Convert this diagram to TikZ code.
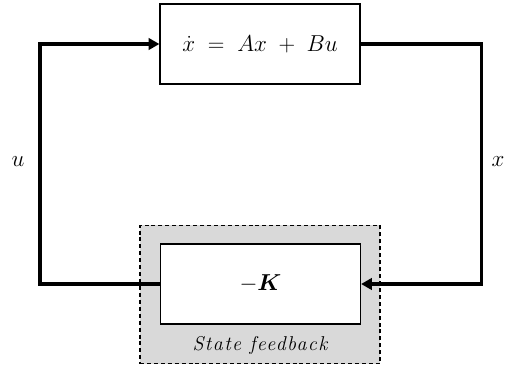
\documentclass[tikz,border=0pt]{standalone}
\usepackage{fontspec}
\usepackage{bm}
\usetikzlibrary{arrows.meta}
\newfontfamily\spaceditfont[LetterSpace=7]{Latin Modern Roman}
\definecolor{fbgray}{RGB}{217,217,217}
\newcommand{\blockfont}{\fontsize{17}{20}\selectfont}
\tikzset{
  block/.style={draw, line width=0.9pt, fill=white, minimum width=150pt, minimum height=60pt, inner sep=0pt, font=\blockfont},
  group/.style={draw, dashed, dash pattern=on 3pt off 2.2pt, line width=0.8pt, fill=fbgray, minimum width=180pt, minimum height=104pt, inner sep=0pt},
  signal/.style={line width=2.4pt, -{Triangle[length=8pt,width=8.5pt]}},
  sig/.style={font=\blockfont}
}
\begin{document}
\begin{tikzpicture}[x=0.75pt,y=-0.75pt]
\useasboundingbox (0,0) rectangle (506,369);

\node[group] (fb) at (260,294.5) {};
\node[block] (plant) at (260,44) {$\dot{x} \;=\; Ax \;+\; Bu$};
\node[block] (k) at (260.5,284) {$-\bm{K}$};
\node[font=\fontsize{15}{17}\selectfont] (fblabel) at (260,345) {\spaceditfont\itshape State feedback};

\draw[signal] (k.west) -- ++(-120,0) |- (plant.west);
\draw[signal] (plant.east) -- ++(121,0) |- (k.east);

\node[sig] (ulabel) at (18,162) {$u$};
\node[sig] (xlabel) at (498,162) {$x$};

\end{tikzpicture}
\end{document}
